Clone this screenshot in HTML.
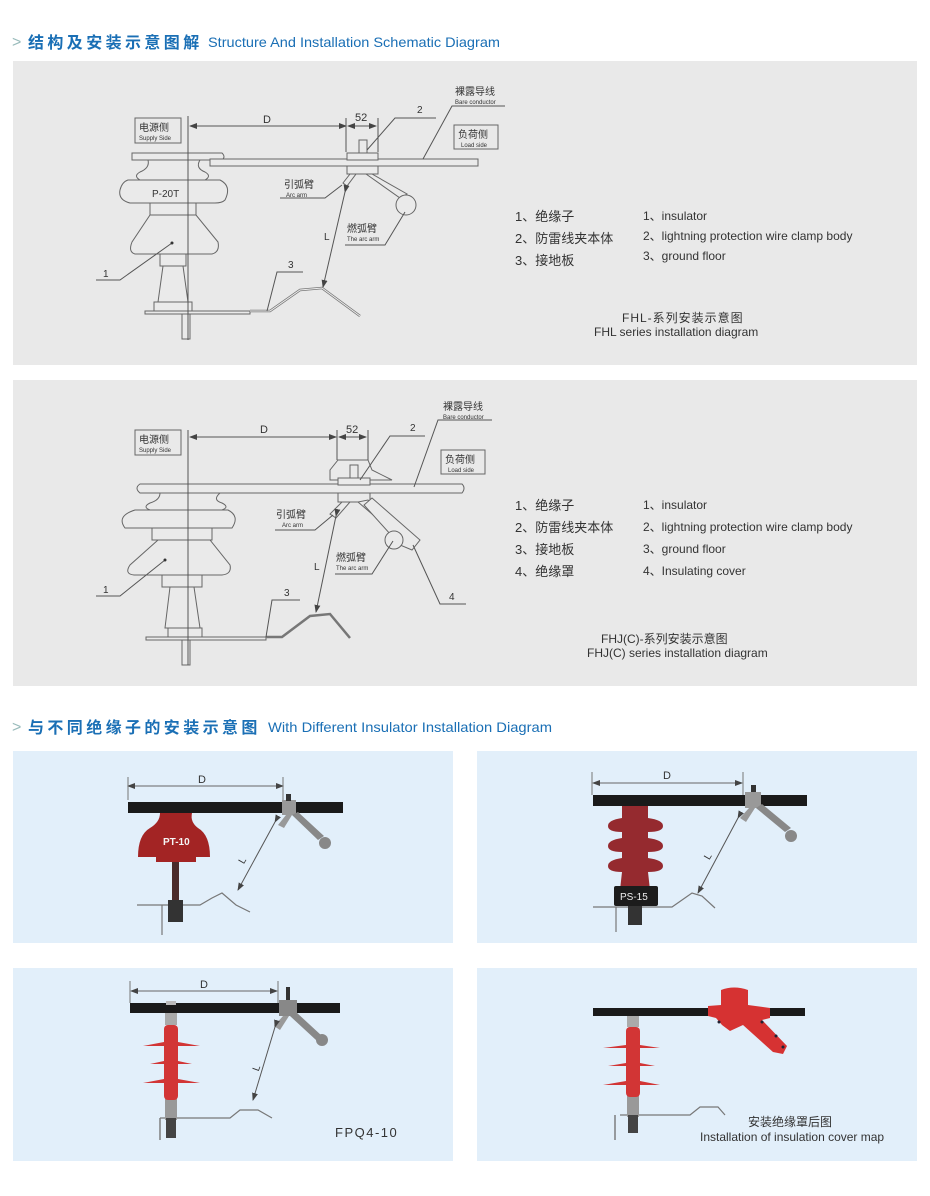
<!DOCTYPE html>
<html><head><meta charset="utf-8"><style>
html,body{margin:0;padding:0;background:#fff;}
svg{display:block;font-family:"Liberation Sans","Noto Sans CJK SC",sans-serif;}
.l{stroke:#555;stroke-width:1;fill:none}
.s{stroke:#666;stroke-width:1;fill:#eaeaea}
.t{fill:#333}
</style></head><body>
<svg width="930" height="1196" viewBox="0 0 930 1196" xmlns="http://www.w3.org/2000/svg">
<defs>
<marker id="a" markerWidth="8" markerHeight="6" refX="7" refY="3" orient="auto"><path d="M0,0L8,3L0,6z" fill="#444"/></marker>
<marker id="b" markerWidth="8" markerHeight="6" refX="1" refY="3" orient="auto"><path d="M8,0L0,3L8,6z" fill="#444"/></marker>
</defs>
<!-- headers -->
<text x="12" y="47" font-size="16" fill="#9bb">&gt;</text>
<text x="28" y="48" font-size="16" font-weight="bold" fill="#1a6fb5" letter-spacing="3.4">结构及安装示意图解</text>
<text x="208" y="47" font-size="14" fill="#1a6fb5" textLength="292" lengthAdjust="spacingAndGlyphs">Structure And Installation Schematic Diagram</text>
<text x="12" y="732" font-size="16" fill="#9bb">&gt;</text>
<text x="28" y="733" font-size="16" font-weight="bold" fill="#1a6fb5" letter-spacing="3.4">与不同绝缘子的安装示意图</text>
<text x="268" y="732" font-size="14" fill="#1a6fb5" textLength="284" lengthAdjust="spacingAndGlyphs">With Different Insulator Installation Diagram</text>

<!-- gray panels -->
<rect x="13" y="61" width="904" height="304" fill="#e9e9e9"/>
<rect x="13" y="380" width="904" height="306" fill="#e9e9e9"/>

<!-- DIAGRAM 1 -->
<g>
<path class="s" d="M132,153 L222,153 Q226,157 222,160 L132,160 Z"/>
<path class="s" d="M148,160 L200,160 Q195,168 205,172 Q212,176 205,180 L140,180 Q133,176 140,172 Q150,168 148,160Z"/>
<path class="s" d="M128,180 L220,180 Q232,186 225,200 Q222,203 215,203 L130,203 Q118,200 120,190 Q122,182 128,180Z"/>
<rect class="s" x="150" y="203" width="46" height="12"/>
<path class="s" d="M150,215 L196,215 L218,242 Q220,252 212,254 L135,254 Q128,252 132,242 Z"/>
<rect class="s" x="160" y="254" width="26" height="12"/>
<path class="s" d="M163,266 L183,266 L188,302 L158,302 Z"/>
<rect class="s" x="154" y="302" width="38" height="9"/>
<rect class="s" x="145" y="311" width="105" height="3"/>
<rect class="s" x="182" y="314" width="8" height="25"/>
<path d="M250,311 L270,311 L300,290 L322,288 L360,316" fill="none" stroke="#777" stroke-width="2.5"/>
<path d="M250,311 L270,311 L300,290 L322,288 L360,316" fill="none" stroke="#eee" stroke-width="1"/>
<line class="l" x1="188" y1="116" x2="188" y2="340"/>
<rect class="s" x="210" y="159" width="268" height="7"/>
<rect class="s" x="347" y="153" width="31" height="7"/>
<rect class="s" x="347" y="166" width="31" height="8"/>
<rect class="s" x="359" y="140" width="8" height="13"/>
<path class="s" d="M350,174 L343,183 L347,186 L356,174Z"/>
<path class="s" d="M366,174 L400,198 L407,194 L372,174Z"/>
<circle class="s" cx="406" cy="205" r="10"/>
<line class="l" x1="190" y1="126" x2="346" y2="126" marker-start="url(#b)" marker-end="url(#a)"/>
<line class="l" x1="346" y1="118" x2="346" y2="152"/>
<line class="l" x1="378" y1="118" x2="378" y2="152"/>
<line class="l" x1="348" y1="126" x2="376" y2="126" marker-start="url(#b)" marker-end="url(#a)"/>
<text x="263" y="123" font-size="11" class="t">D</text>
<text x="355" y="121" font-size="11" class="t">52</text>
<line class="l" x1="345" y1="192" x2="323" y2="287" marker-start="url(#a)" marker-end="url(#a)"/>
<text x="324" y="240" font-size="10" class="t">L</text>
<rect x="135" y="118" width="46" height="25" fill="none" stroke="#666"/>
<text x="139" y="131" font-size="10" class="t">电源侧</text>
<text x="139" y="140" font-size="6" class="t">Supply Side</text>
<rect x="454" y="125" width="44" height="24" fill="none" stroke="#666"/>
<text x="458" y="138" font-size="10" class="t">负荷侧</text>
<text x="461" y="147" font-size="6" class="t">Load side</text>
<text x="455" y="95" font-size="10" class="t">裸露导线</text>
<text x="455" y="104" font-size="6" class="t">Bare conductor</text>
<path class="l" d="M423,159 L452,106 L505,106"/>
<text x="417" y="113" font-size="10" class="t">2</text>
<path class="l" d="M367,150 L395,118 L436,118"/>
<text x="284" y="188" font-size="10" class="t">引弧臂</text>
<text x="286" y="197" font-size="6" class="t">Arc arm</text>
<path class="l" d="M280,198 L325,198 L342,185"/>
<text x="347" y="232" font-size="10" class="t">燃弧臂</text>
<text x="347" y="241" font-size="6" class="t">The arc arm</text>
<path class="l" d="M345,245 L385,245 L405,212"/>
<text x="152" y="197" font-size="10" class="t">P-20T</text>
<path class="l" d="M96,280 L120,280 L172,243"/>
<circle cx="172" cy="243" r="1.5" fill="#333"/>
<text x="103" y="277" font-size="10" class="t">1</text>
<path class="l" d="M267,311 L277,272 L303,272"/>
<text x="288" y="268" font-size="10" class="t">3</text>
<text x="515" y="221" font-size="13" class="t">1、绝缘子</text>
<text x="515" y="243" font-size="13" class="t">2、防雷线夹本体</text>
<text x="515" y="265" font-size="13" class="t">3、接地板</text>
<text x="643" y="220" font-size="12" class="t">1、insulator</text>
<text x="643" y="240" font-size="12" class="t">2、lightning protection wire clamp body</text>
<text x="643" y="260" font-size="12" class="t">3、ground floor</text>
<text x="622" y="322" font-size="12" class="t" letter-spacing="1">FHL-系列安装示意图</text>
<text x="594" y="336" font-size="12" class="t">FHL series installation diagram</text>
</g>

<!-- DIAGRAM 2 -->
<g>
<path class="s" d="M140,484 L462,484 Q466,488 462,493 L140,493 Q134,488 140,484Z"/>
<path class="s" d="M160,493 L220,493 Q212,500 222,503 Q230,507 222,510 L150,510 Q142,507 150,503 Q160,500 160,493Z"/>
<path class="s" d="M135,510 L228,510 Q240,516 232,528 L125,528 Q116,516 135,510Z"/>
<rect class="s" x="152" y="528" width="60" height="12"/>
<path class="s" d="M158,540 L210,540 L230,565 Q232,574 222,575 L134,575 Q124,574 130,565 Z"/>
<rect class="s" x="162" y="575" width="40" height="12"/>
<path class="s" d="M170,587 L194,587 L200,628 L165,628 Z"/>
<rect class="s" x="168" y="628" width="34" height="9"/>
<rect class="s" x="146" y="637" width="120" height="3"/>
<rect class="s" x="182" y="640" width="8" height="25"/>
<path d="M266,637 L282,637 L310,616 L330,614 L350,638" fill="none" stroke="#777" stroke-width="2.5"/>
<line class="l" x1="188" y1="430" x2="188" y2="665"/>
<path class="s" d="M338,460 L368,460 L372,470 L392,480 L330,480 L330,470Z"/>
<rect class="s" x="338" y="478" width="32" height="7"/>
<rect class="s" x="338" y="493" width="32" height="9"/>
<rect class="s" x="350" y="465" width="8" height="13"/>
<path class="s" d="M342,502 L330,514 L336,518 L350,502Z"/>
<path class="s" d="M358,502 L400,538 L410,532 L368,500Z"/>
<path class="s" d="M372,498 L420,540 L412,550 L400,545 L364,505Z" fill="none"/>
<circle class="s" cx="394" cy="540" r="9"/>
<line class="l" x1="190" y1="437" x2="336" y2="437" marker-start="url(#b)" marker-end="url(#a)"/>
<line class="l" x1="337" y1="430" x2="337" y2="460"/>
<line class="l" x1="368" y1="430" x2="368" y2="460"/>
<line class="l" x1="339" y1="437" x2="366" y2="437" marker-start="url(#b)" marker-end="url(#a)"/>
<text x="260" y="433" font-size="11" class="t">D</text>
<text x="346" y="433" font-size="11" class="t">52</text>
<line class="l" x1="336" y1="516" x2="316" y2="612" marker-start="url(#a)" marker-end="url(#a)"/>
<text x="314" y="570" font-size="10" class="t">L</text>
<rect x="135" y="430" width="46" height="25" fill="none" stroke="#666"/>
<text x="139" y="443" font-size="10" class="t">电源侧</text>
<text x="139" y="452" font-size="6" class="t">Supply Side</text>
<rect x="441" y="450" width="44" height="24" fill="none" stroke="#666"/>
<text x="445" y="463" font-size="10" class="t">负荷侧</text>
<text x="448" y="472" font-size="6" class="t">Load side</text>
<text x="443" y="410" font-size="10" class="t">裸露导线</text>
<text x="443" y="419" font-size="6" class="t">Bare conductor</text>
<path class="l" d="M414,487 L438,420 L492,420"/>
<text x="410" y="431" font-size="10" class="t">2</text>
<path class="l" d="M360,480 L390,436 L425,436"/>
<text x="276" y="518" font-size="10" class="t">引弧臂</text>
<text x="282" y="527" font-size="6" class="t">Arc arm</text>
<path class="l" d="M275,530 L315,530 L333,515"/>
<text x="336" y="561" font-size="10" class="t">燃弧臂</text>
<text x="336" y="570" font-size="6" class="t">The arc arm</text>
<path class="l" d="M335,574 L372,574 L393,541"/>
<path class="l" d="M413,545 L440,604 L466,604"/>
<text x="449" y="600" font-size="10" class="t">4</text>
<path class="l" d="M96,596 L120,596 L165,560"/>
<circle cx="165" cy="560" r="1.5" fill="#333"/>
<text x="103" y="593" font-size="10" class="t">1</text>
<path class="l" d="M266,637 L272,600 L300,600"/>
<text x="284" y="596" font-size="10" class="t">3</text>
<text x="515" y="510" font-size="13" class="t">1、绝缘子</text>
<text x="515" y="532" font-size="13" class="t">2、防雷线夹本体</text>
<text x="515" y="554" font-size="13" class="t">3、接地板</text>
<text x="515" y="576" font-size="13" class="t">4、绝缘罩</text>
<text x="643" y="509" font-size="12" class="t">1、insulator</text>
<text x="643" y="531" font-size="12" class="t">2、lightning protection wire clamp body</text>
<text x="643" y="553" font-size="12" class="t">3、ground floor</text>
<text x="643" y="575" font-size="12" class="t">4、Insulating cover</text>
<text x="601" y="643" font-size="12" class="t">FHJ(C)-系列安装示意图</text>
<text x="587" y="657" font-size="12" class="t">FHJ(C) series installation diagram</text>
</g>

<!-- blue panels -->
<rect x="13" y="751" width="440" height="192" fill="#e2effa"/>
<rect x="477" y="751" width="440" height="192" fill="#e2effa"/>
<rect x="13" y="968" width="440" height="193" fill="#e2effa"/>
<rect x="477" y="968" width="440" height="193" fill="#e2effa"/>

<!-- panel 1 -->
<g>
<path d="M137,905 L200,905 L212,898 L222,893 L236,905 L250,912" fill="none" stroke="#777" stroke-width="1.2"/>
<path d="M162,905 L162,935" stroke="#777" stroke-width="1.2"/>
<rect x="172" y="860" width="7" height="42" fill="#4a2a2a"/>
<rect x="168" y="900" width="15" height="22" fill="#333"/>
<path d="M160,813 L192,813 Q190,822 198,828 Q210,835 210,857 L196,857 L196,862 L156,862 L156,857 L138,857 Q138,835 150,828 Q160,822 160,813Z" fill="#a32424"/>
<text x="163" y="845" font-size="10" fill="#f5f5f5" font-weight="bold">PT-10</text>
<rect x="128" y="802" width="215" height="11" fill="#1a1a1a"/>
<rect x="282" y="800" width="14" height="15" fill="#999"/>
<rect x="286" y="794" width="5" height="7" fill="#333"/>
<path d="M286,815 L278,825 L284,828 L292,815Z" fill="#999"/>
<path d="M292,815 L318,840 L324,836 L298,812Z" fill="#888"/>
<circle cx="325" cy="843" r="6" fill="#888"/>
<line x1="128" y1="786" x2="283" y2="786" stroke="#666" marker-start="url(#b)" marker-end="url(#a)"/>
<line x1="128" y1="777" x2="128" y2="800" stroke="#777"/>
<line x1="283" y1="777" x2="283" y2="800" stroke="#777"/>
<text x="198" y="783" font-size="11" class="t">D</text>
<line x1="275" y1="822" x2="238" y2="890" stroke="#555" marker-start="url(#a)" marker-end="url(#a)"/>
<text x="240" y="862" font-size="10" class="t" transform="rotate(-60 244 860)">L</text>
</g>

<!-- panel 2 -->
<g>
<path d="M593,907 L672,907 L692,893 L702,896 L715,908" fill="none" stroke="#777" stroke-width="1.2"/>
<path d="M616,907 L616,932" stroke="#777" stroke-width="1.2"/>
<rect x="628" y="900" width="14" height="25" fill="#333"/>
<path d="M622,801 L648,801 L648,818 Q663,820 663,826 Q663,832 648,832 L648,838 Q663,840 663,846 Q663,852 648,852 L648,858 Q663,860 663,866 Q663,872 648,872 L650,890 L620,890 L622,872 Q608,872 608,866 Q608,860 622,858 L622,852 Q608,852 608,846 Q608,840 622,838 L622,832 Q608,832 608,826 Q608,820 622,818Z" fill="#952a2f"/>
<rect x="614" y="886" width="44" height="20" rx="2" fill="#1c1c1c"/>
<text x="620" y="900" font-size="10" fill="#eee">PS-15</text>
<rect x="593" y="795" width="214" height="11" fill="#1a1a1a"/>
<rect x="745" y="792" width="16" height="16" fill="#999"/>
<rect x="751" y="785" width="5" height="7" fill="#333"/>
<path d="M749,808 L740,818 L746,822 L755,808Z" fill="#999"/>
<path d="M756,808 L785,832 L791,828 L762,804Z" fill="#888"/>
<circle cx="791" cy="836" r="6" fill="#888"/>
<line x1="593" y1="783" x2="742" y2="783" stroke="#666" marker-start="url(#b)" marker-end="url(#a)"/>
<line x1="592" y1="772" x2="592" y2="795" stroke="#777"/>
<line x1="743" y1="772" x2="743" y2="795" stroke="#777"/>
<text x="663" y="779" font-size="11" class="t">D</text>
<line x1="738" y1="818" x2="698" y2="893" stroke="#555" marker-start="url(#a)" marker-end="url(#a)"/>
<text x="705" y="857" font-size="10" class="t" transform="rotate(-60 710 855)">L</text>
</g>

<!-- panel 3 -->
<g>
<path d="M160,1118 L230,1118 L240,1110 L258,1110 L272,1118" fill="none" stroke="#777" stroke-width="1.2"/>
<path d="M160,1118 L160,1140" stroke="#777" stroke-width="1.4"/>
<rect x="165" y="1013" width="12" height="12" fill="#aaa"/>
<rect x="165" y="1098" width="12" height="22" fill="#999"/>
<rect x="166" y="1118" width="10" height="20" fill="#444"/>
<rect x="164" y="1025" width="14" height="75" rx="4" fill="#d23535"/>
<path d="M143,1046 L200,1046 L178,1042 L164,1042Z M150,1064 L192,1064 L178,1061 L164,1061Z M143,1083 L200,1083 L178,1079 L164,1079Z" fill="#d23535"/>
<rect x="130" y="1003" width="210" height="10" fill="#1a1a1a"/>
<rect x="166" y="1001" width="10" height="4" fill="#bbb"/>
<rect x="279" y="1000" width="18" height="16" fill="#888"/>
<rect x="286" y="987" width="4" height="13" fill="#333"/>
<path d="M283,1016 L274,1026 L280,1030 L289,1016Z" fill="#999"/>
<path d="M290,1016 L316,1040 L322,1036 L296,1012Z" fill="#888"/>
<circle cx="322" cy="1040" r="6" fill="#888"/>
<line x1="131" y1="991" x2="277" y2="991" stroke="#666" marker-start="url(#b)" marker-end="url(#a)"/>
<line x1="130" y1="981" x2="130" y2="1003" stroke="#777"/>
<line x1="278" y1="981" x2="278" y2="1003" stroke="#777"/>
<text x="200" y="988" font-size="11" class="t">D</text>
<line x1="275" y1="1027" x2="253" y2="1100" stroke="#555" marker-start="url(#a)" marker-end="url(#a)"/>
<text x="253" y="1070" font-size="10" class="t" transform="rotate(-70 257 1067)">L</text>
<text x="335" y="1137" font-size="13" class="t" letter-spacing="1.5">FPQ4-10</text>
</g>

<!-- panel 4 -->
<g>
<path d="M620,1115 L690,1115 L700,1107 L718,1107 L725,1115" fill="none" stroke="#777" stroke-width="1.2"/>
<path d="M615,1115 L615,1140" stroke="#777" stroke-width="1.4"/>
<rect x="627" y="1015" width="12" height="12" fill="#aaa"/>
<rect x="627" y="1095" width="12" height="22" fill="#999"/>
<rect x="628" y="1115" width="10" height="18" fill="#444"/>
<rect x="626" y="1027" width="14" height="70" rx="4" fill="#d23535"/>
<path d="M603,1048 L660,1048 L640,1045 L626,1045Z M608,1066 L655,1066 L640,1063 L626,1063Z M603,1085 L660,1085 L640,1081 L626,1081Z" fill="#d23535"/>
<rect x="593" y="1008" width="212" height="8" fill="#1a1a1a"/>
<path d="M721,990 Q734,985 748,990 L748,1005 L770,1008 L770,1018 L762,1020 L787,1046 L783,1054 L773,1052 L743,1025 L730,1031 L722,1025 L716,1018 L708,1016 L708,1006 L721,1005Z" fill="#d63232"/>
<circle cx="719" cy="1022" r="1.5" fill="#223"/><circle cx="762" cy="1022" r="1.5" fill="#223"/><circle cx="776" cy="1036" r="1.5" fill="#223"/><circle cx="783" cy="1047" r="1.5" fill="#223"/>
<text x="748" y="1126" font-size="12" class="t">安装绝缘罩后图</text>
<text x="700" y="1141" font-size="12" class="t">Installation of insulation cover map</text>
</g>
</svg>
</body></html>
